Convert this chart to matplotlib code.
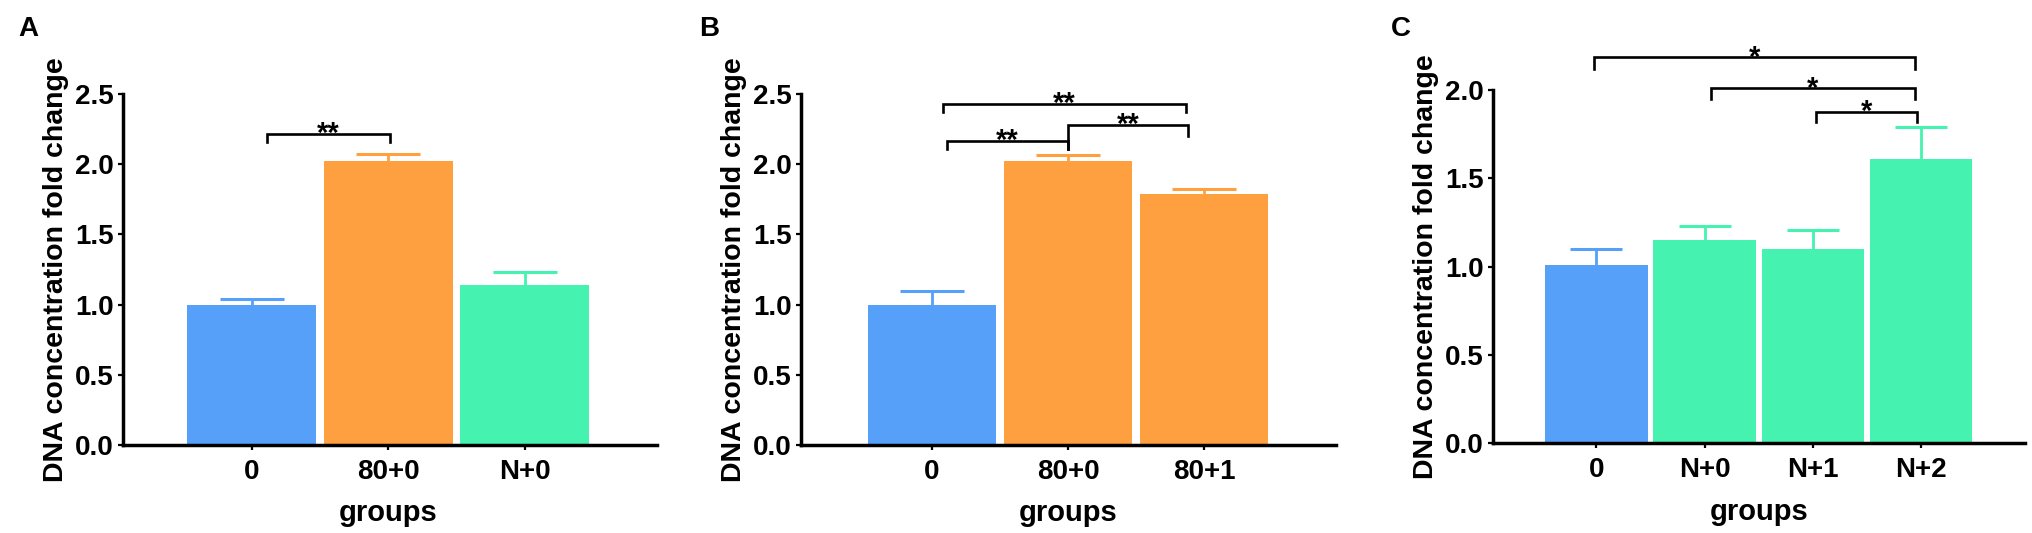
import matplotlib
matplotlib.use("Agg")
import matplotlib.pyplot as plt

# ---------------- data ----------------
cats_a = ["0", "80+0", "N+0"]
vals_a = [1.00, 2.02, 1.14]
err_a = [0.04, 0.05, 0.09]

cats_b = ["0", "80+0", "80+1"]
vals_b = [1.00, 2.02, 1.79]
err_b = [0.095, 0.045, 0.035]

cats_c = ["0", "N+0", "N+1", "N+2"]
vals_c = [1.01, 1.15, 1.10, 1.61]
err_c = [0.09, 0.08, 0.11, 0.18]

yticks_ab = [0.0, 0.5, 1.0, 1.5, 2.0, 2.5]
yticks_c = [0.0, 0.5, 1.0, 1.5, 2.0]

# significance brackets: (x_left, x_right, y_line, y_leg_left, y_leg_right, label)
sig_a = [(0.11, 1.01, 2.215, 2.16, 2.16, "**")]
sig_b = [(0.11, 1.0, 2.167, 2.11, 2.11, "**"),
         (1.0, 1.885, 2.28, 2.11, 2.20, "**"),
         (0.08, 1.87, 2.43, 2.37, 2.37, "**")]
sig_c = [(-0.02, 2.94, 2.185, 2.12, 2.12, "*"),
         (1.06, 2.94, 2.01, 1.95, 1.95, "*"),
         (2.03, 2.96, 1.877, 1.817, 1.817, "*")]

BLUE = "#56A0FA"
ORANGE = "#FFA040"
GREEN = "#45F2B0"
colors_a = [BLUE, ORANGE, GREEN]
colors_b = [BLUE, ORANGE, ORANGE]
colors_c = [BLUE, GREEN, GREEN, GREEN]

W, H = 2033, 533
fig = plt.figure(figsize=(W / 100, H / 100), dpi=100)

FAM = ["Liberation Sans", "DejaVu Sans"]
TICKFONT = dict(family=FAM, weight="bold", size=20)
YLABFONT = dict(family=FAM, weight="bold", size=20.5)
XLABFONT = dict(family=FAM, weight="bold", size=21)


def px_axes(x0, x1, y_top, y_bot):
    return fig.add_axes([x0 / W, 1 - y_bot / H, (x1 - x0) / W, (y_bot - y_top) / H])


def panel(ax, cats, vals, errs, colors, yticks, xlim, capsize, sigs, xlabel_x):
    n = len(cats)
    xs = list(range(n))
    ax.bar(xs, vals, width=0.946, color=colors, edgecolor="none", zorder=2)
    for x, v, e, c in zip(xs, vals, errs, colors):
        _, caps, _ = ax.errorbar([x], [v], yerr=[[0], [e]], fmt="none", ecolor=c,
                                 elinewidth=2.0, capsize=capsize, capthick=2.2,
                                 zorder=1)
        caps[0].set_visible(False)
    ax.set_xlim(*xlim)
    ax.set_ylim(0, yticks[-1])
    ax.set_yticks(yticks)
    ax.set_yticklabels([f"{t:.1f}" for t in yticks], fontdict=TICKFONT)
    ax.set_xticks(xs)
    ax.set_xticklabels(cats, fontdict=TICKFONT)
    for s in ["top", "right"]:
        ax.spines[s].set_visible(False)
    for s in ["left", "bottom"]:
        ax.spines[s].set_linewidth(2.5)
    ax.tick_params(axis="both", direction="out", length=3.5, width=1.6, color="black")
    ax.tick_params(axis="x", pad=6.5)
    ax.tick_params(axis="y", pad=3)
    ax.set_ylabel("DNA concentration fold change", fontdict=YLABFONT, labelpad=4)
    ax.set_xlabel("groups", fontdict=XLABFONT)
    ax.xaxis.set_label_coords(xlabel_x, -0.155)
    for (x1, x2, y, yl, yr, lab) in sigs:
        ax.plot([x1, x1, x2, x2], [yl, y, y, yr], color="black", lw=1.9,
                solid_joinstyle="miter", clip_on=False, zorder=3)
        ax.annotate(lab, xy=((x1 + x2) / 2, y), xytext=(0, -6),
                    textcoords="offset points", ha="center", va="baseline",
                    family=FAM, weight="bold", fontsize=21, annotation_clip=False)


ax_a = px_axes(122.7, 657, 94, 445)
panel(ax_a, cats_a, vals_a, err_a, colors_a, yticks_ab, (-0.946, 2.97), 23, sig_a,
      (1 + 0.946) / (2.97 + 0.946))
ax_b = px_axes(800.7, 1336, 94, 445)
panel(ax_b, cats_b, vals_b, err_b, colors_b, yticks_ab, (-0.965, 2.97), 23, sig_b,
      (1 + 0.965) / (2.97 + 0.965))
ax_c = px_axes(1492.8, 2025, 90, 443.3)
panel(ax_c, cats_c, vals_c, err_c, colors_c, yticks_c, (-0.957, 3.96), 18.4, sig_c,
      (1.5 + 0.957) / (3.96 + 0.957))

for lab, x in [("A", 28), ("B", 709), ("C", 1401)]:
    fig.text(x / W, 1 - 29 / H, lab, ha="center", va="center",
             family=FAM, weight="bold", fontsize=20)

fig.savefig("out.png", dpi=100)
